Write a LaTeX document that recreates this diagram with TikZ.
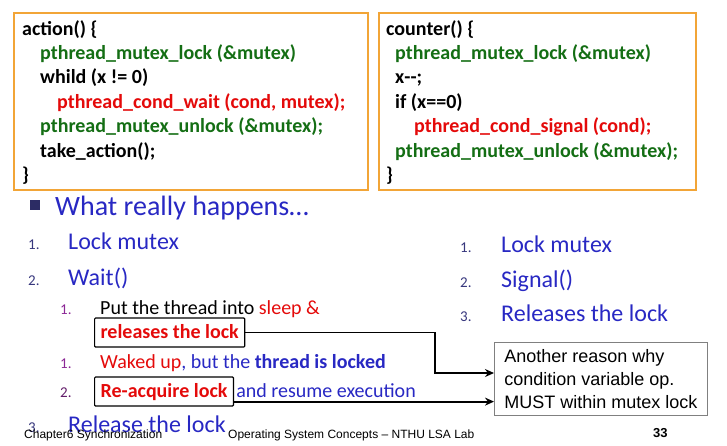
\documentclass[tikz,border=0pt]{standalone}
\usepackage{fontspec}
\setmainfont{Carlito}
\newfontfamily\arialfont{Liberation Sans}
\usetikzlibrary{arrows.meta}
\definecolor{codegreen}{RGB}{20,110,20}
\definecolor{codered}{RGB}{228,10,10}
\definecolor{boxorange}{RGB}{242,165,55}
\definecolor{slideblue}{RGB}{40,40,195}
\definecolor{numblue}{RGB}{55,55,125}
\definecolor{numpurple}{RGB}{140,40,150}
\tikzset{
  codebox/.style={draw=boxorange, line width=1.6pt, minimum width=354pt, minimum height=177pt, anchor=north west, inner sep=0pt},
  code/.style={anchor=base west, inner sep=0pt, font=\fontsize{20}{24}\selectfont\bfseries},
  item/.style={anchor=base west, inner sep=0pt, text=slideblue, font=\fontsize{24}{28}\selectfont},
  num/.style={anchor=base west, inner sep=0pt, text=numblue, font=\fontsize{15}{18}\selectfont},
  subnum/.style={num, text=numpurple},
  subitem/.style={anchor=base west, inner sep=0pt, font=\fontsize{20}{24}\selectfont},
  hlbox/.style={draw, line width=1.2pt, rounded corners=1pt, anchor=base west, inner xsep=6pt, inner ysep=5pt, text height=15pt, text depth=4pt, text=codered, font=\fontsize{20}{24}\selectfont\bfseries},
  notebox/.style={draw=gray, line width=0.8pt, align=left, anchor=north west, inner xsep=8pt, minimum width=213pt, minimum height=73pt, font=\arialfont\fontsize{18}{23}\selectfont},
  footer/.style={anchor=base west, inner sep=0pt, font=\arialfont\fontsize{12}{14}\selectfont},
  link/.style={-{Stealth[length=9pt,width=8pt]}, line width=1.8pt}
}
\begin{document}
\begin{tikzpicture}[x=1pt,y=-1pt]
  \useasboundingbox (0,0) rectangle (727,445);

  % Code boxes
  \node[codebox] (actbox) at (13,12) {};
  \node[codebox, minimum width=317pt] (cntbox) at (378,12) {};

  % action()
  \node[code] (a1) at (22,35) {action() \{};
  \node[code, text=codegreen] (a2) at (40,59) {pthread\_mutex\_lock (\&mutex)};
  \node[code] (a3) at (40,83) {whild (x != 0)};
  \node[code, text=codered] (a4) at (57,108) {pthread\_cond\_wait (cond, mutex);};
  \node[code, text=codegreen] (a5) at (40,132) {pthread\_mutex\_unlock (\&mutex);};
  \node[code] (a6) at (40,157) {take\_action();};
  \node[code] (a7) at (22,181) {\}};

  % counter()
  \node[code] (c1) at (386,35) {counter() \{};
  \node[code, text=codegreen] (c2) at (395,59) {pthread\_mutex\_lock (\&mutex)};
  \node[code] (c3) at (395,83) {x\mbox{-}\mbox{-};};
  \node[code] (c4) at (395,108) {if (x==0)};
  \node[code, text=codered] (c5) at (414,132) {pthread\_cond\_signal (cond);};
  \node[code, text=codegreen] (c6) at (395,157) {pthread\_mutex\_unlock (\&mutex);};
  \node[code] (c7) at (386,181) {\}};

  % What really happens
  \fill[numblue!80!black] (30,200) rectangle (40,210);
  \node[item, font=\fontsize{28}{32}\selectfont] (what) at (55,215) {What really happens\dots};

  % left list
  \node[num] (n1) at (28,249) {1.};
  \node[item] (lock) at (68,249) {Lock mutex};
  \node[num] (n2) at (28,285) {2.};
  \node[item] (wait) at (68,285) {Wait()};
  \node[subnum] (s1) at (60,314) {1.};
  \node[subitem] (put) at (100,314) {Put the thread into \textcolor{codered}{sleep \&}};
  \node[hlbox] (relock) at (94,338) {releases the lock};
  \node[subnum] (s2) at (60,368) {1.};
  \node[subitem, text=slideblue] (waked) at (100,368) {\textcolor{codered}{Waked up}, but the \textbf{thread is locked}};
  \node[subnum, text=numpurple!70!black] (s3) at (60,397) {2.};
  \node[hlbox] (reacq) at (94,397) {Re-acquire lock};
  \node[subitem, text=slideblue, xshift=2pt] (resume) at (reacq.base east) {and resume execution};
  \node[num] (n3) at (28,432) {3.};
  \node[item] (release) at (68,432) {Release the lock};

  % right list
  \node[num] (m1) at (460,252) {1.};
  \node[item] (rlock) at (501,252) {Lock mutex};
  \node[num] (m2) at (460,287) {2.};
  \node[item] (signal) at (501,287) {Signal()};
  \node[num] (m3) at (460,321) {3.};
  \node[item] (rrel) at (501,321) {Releases the lock};

  % Note
  \node[notebox] (note) at (494,342) {Another reason why\\condition variable op.\\MUST within mutex lock};

  % Arrows
  \coordinate (bend) at (435,373);
  \draw[link] (relock.east) -| (bend) -- (bend -| note.west);
  \coordinate (r2) at ([yshift=5pt]reacq.south east);
  \draw[link] (r2) -- (r2 -| note.west);

  % Footer
  \node[footer] (chap) at (24,438) {Chapter6 Synchronization};
  \node[footer] (course) at (228,438) {Operating System Concepts – NTHU LSA Lab};
  \node[footer, font=\arialfont\bfseries\fontsize{13}{15}\selectfont] (page) at (653,437) {33};
\end{tikzpicture}
\end{document}
